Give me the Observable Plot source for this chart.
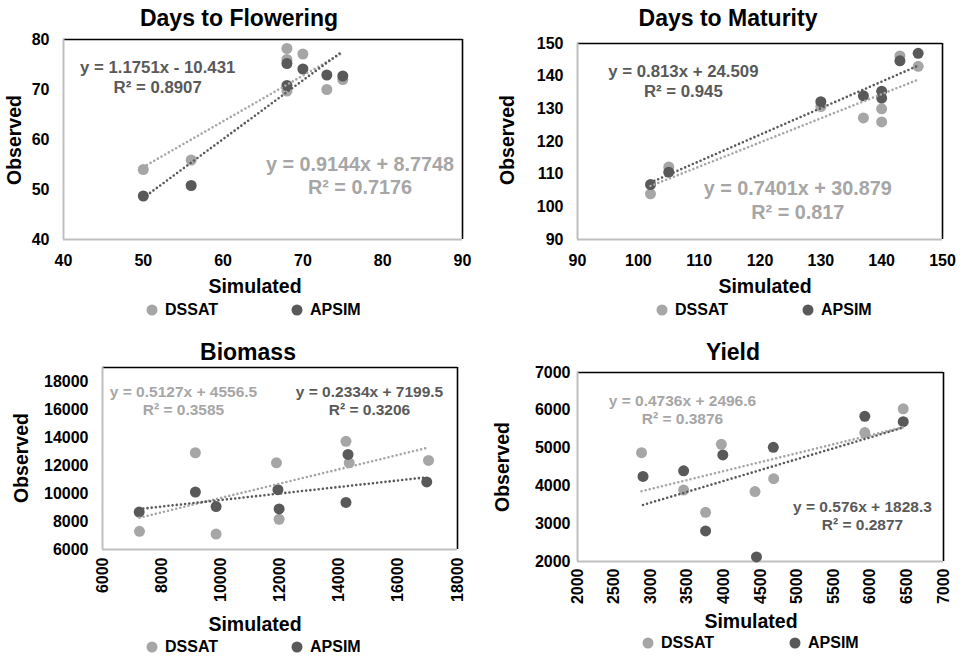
<!DOCTYPE html>
<html>
<head>
<meta charset="utf-8">
<script src="https://cdn.jsdelivr.net/npm/d3@7"></script>
<script src="https://cdn.jsdelivr.net/npm/@observablehq/plot@0.6"></script>
<style>
  body { margin: 0; background: #fff; }
  #page { position: relative; width: 963px; height: 658px; overflow: hidden;
          font-family: "Liberation Sans", Arial, sans-serif; font-weight: bold; color: #000; }
  #page svg { position: absolute; }
  .lbl { position: absolute; white-space: nowrap; line-height: 1; transform: translate(-50%, -50%); }
  .key { position: absolute; white-space: nowrap; line-height: 1; transform: translateY(-50%); font-size: 16px; }
  .swatch { position: absolute; width: 11px; height: 11px; border-radius: 50%; transform: translate(-50%, -50%); }
</style>
</head>
<body>
<div id="page"></div>
<script>
// ---- Simulated vs observed values, DSSAT and APSIM ----
const titles = ["Days to Flowering", "Days to Maturity", "Biomass", "Yield"];
const modelNames = ["DSSAT", "APSIM"];
const modelColors = ["#a6a6a6", "#595959"];

const flowerDssatSim = [50, 56, 68, 68, 68, 70, 73, 75];
const flowerDssatObs = [54.0, 55.9, 78.2, 76.0, 69.7, 77.1, 70.0, 72.0];
const flowerApsimSim = [50, 56, 68, 68, 70, 73, 75];
const flowerApsimObs = [48.7, 50.8, 75.2, 70.8, 74.1, 72.9, 72.7];

const maturityDssatSim = [102, 105, 130, 137, 140, 140, 143, 146];
const maturityDssatObs = [104.0, 112.2, 130.7, 127.2, 130.0, 126.0, 146.2, 143.0];
const maturityApsimSim = [102, 105, 130, 137, 140, 140, 143, 146];
const maturityApsimObs = [106.8, 110.6, 132.2, 134.0, 135.4, 133.3, 144.7, 147.0];

const biomassDssatSim = [7250, 9140, 9840, 11880, 11970, 14230, 14340, 17020];
const biomassDssatObs = [7300, 12910, 7100, 12190, 8160, 13730, 12190, 12360];
const biomassApsimSim = [7240, 9140, 9840, 11930, 11970, 14230, 14300, 16960];
const biomassApsimObs = [8670, 10100, 9070, 10270, 8900, 9360, 12790, 10830];

const yieldDssatSim = [2875, 3450, 3750, 3965, 4425, 4680, 5925, 6450];
const yieldDssatObs = [4880, 3890, 3300, 5100, 3850, 4190, 5410, 6040];
const yieldApsimSim = [2895, 3450, 3750, 3985, 4445, 4675, 5925, 6450];
const yieldApsimObs = [4250, 4400, 2810, 4820, 2120, 5020, 5840, 5700];

// Linear trend lines (one entry per panel)
const dssatSlope = [0.9144, 0.7401, 0.5127, 0.4736];
const dssatIntercept = [8.7748, 30.879, 4556.5, 2496.6];
const dssatR2 = [0.7176, 0.817, 0.3585, 0.3876];
const apsimSlope = [1.1751, 0.813, 0.2334, 0.576];
const apsimIntercept = [-10.431, 24.509, 7199.5, 1828.3];
const apsimR2 = [0.8907, 0.945, 0.3206, 0.2877];

// Axis ticks
const flowerTicks = [40, 50, 60, 70, 80, 90];
const flowerTicksY = [40, 50, 60, 70, 80];
const maturityTicks = [90, 100, 110, 120, 130, 140, 150];
const biomassTicks = [6000, 8000, 10000, 12000, 14000, 16000, 18000];
const yieldTicksX = [2000, 2500, 3000, 3500, 4000, 4500, 5000, 5500, 6000, 6500, 7000];
const yieldTicksY = [2000, 3000, 4000, 5000, 6000, 7000];

// ---- Panel layout ----
const panels = [
  { dSim: flowerDssatSim, dObs: flowerDssatObs, aSim: flowerApsimSim, aObs: flowerApsimObs,
    xDomain: [40, 90], yDomain: [40, 80], xTicks: flowerTicks, yTicks: flowerTicksY,
    left: 0, top: 0, width: 481, height: 329, margin: [39, 19, 90, 63],
    xRotate: 0, xPad: 15, yPad: 14,
    title: [239, 18], xLabel: [255, 287], yLabel: [15, 140], legend: [310, 152, 297],
    dssatEq: { at: [77.15, 52.9], size: 19.8 }, apsimEq: { at: [51.8, 72.6], size: 16.8 } },
  { dSim: maturityDssatSim, dObs: maturityDssatObs, aSim: maturityApsimSim, aObs: maturityApsimObs,
    xDomain: [90, 150], yDomain: [90, 150], xTicks: maturityTicks, yTicks: maturityTicks,
    left: 481, top: 0, width: 482, height: 329, margin: [43, 21, 90, 96],
    xRotate: 0, xPad: 15, yPad: 14,
    title: [728, 18], xLabel: [765, 287], yLabel: [508, 140], legend: [310, 662, 808],
    dssatEq: { at: [126.2, 102.2], size: 19.8 }, apsimEq: { at: [107.4, 138.7], size: 16.8 } },
  { dSim: biomassDssatSim, dObs: biomassDssatObs, aSim: biomassApsimSim, aObs: biomassApsimObs,
    xDomain: [6000, 18000], yDomain: [6000, 19000], xTicks: biomassTicks, yTicks: biomassTicks,
    left: 0, top: 329, width: 481, height: 329, margin: [38, 24, 109, 102],
    xRotate: -90, xPad: 8, yPad: 14,
    title: [248, 352], xLabel: [255, 625], yLabel: [22, 458], legend: [647, 152, 297],
    dssatEq: { at: [8738, 16643], size: 15.5 }, apsimEq: { at: [15026, 16643], size: 15.5 } },
  { dSim: yieldDssatSim, dObs: yieldDssatObs, aSim: yieldApsimSim, aObs: yieldApsimObs,
    xDomain: [2000, 7000], yDomain: [2000, 7000], xTicks: yieldTicksX, yTicks: yieldTicksY,
    left: 481, top: 329, width: 482, height: 329, margin: [43, 20, 97, 96],
    xRotate: -90, xPad: 7, yPad: 7,
    title: [733, 352], xLabel: [751, 622], yLabel: [503, 467], legend: [643, 648, 795],
    dssatEq: { at: [3434, 6021], size: 15.5 }, apsimEq: { at: [5893, 3230], size: 15.5 } }
];

const page = document.getElementById("page");
const put = (html, cls, style) => {
  const el = document.createElement("div");
  el.className = cls;
  Object.assign(el.style, style);
  el.innerHTML = html;
  page.appendChild(el);
  return el;
};
const equation = (slope, icpt, r2) =>
  `y = ${slope}x ${icpt < 0 ? "-" : "+"} ${Math.abs(icpt)}\nR² = ${r2}`;

panels.forEach((p, i) => {
  const rows = (sim, obs) => sim.map((s, k) => ({ sim: s, obs: obs[k] }));
  const trend = (sim, slope, icpt) => d3.extent(sim).map(x => ({ sim: x, obs: slope * x + icpt }));
  const dssatRows = rows(p.dSim, p.dObs);
  const apsimRows = rows(p.aSim, p.aObs);
  const dssatTrend = trend(p.dSim, dssatSlope[i], dssatIntercept[i]);
  const apsimTrend = trend(p.aSim, apsimSlope[i], apsimIntercept[i]);
  const eqRows = [
    { x: p.dssatEq.at[0], y: p.dssatEq.at[1], t: equation(dssatSlope[i], dssatIntercept[i], dssatR2[i]), c: modelColors[0], s: p.dssatEq.size },
    { x: p.apsimEq.at[0], y: p.apsimEq.at[1], t: equation(apsimSlope[i], apsimIntercept[i], apsimR2[i]), c: modelColors[1], s: p.apsimEq.size }
  ];
  const [mt, mr, mb, ml] = p.margin;
  const dotted = { strokeWidth: 2.6, strokeDasharray: "0,4.2", strokeLinecap: "round" };

  const svg = Plot.plot({
    width: p.width, height: p.height,
    marginTop: mt, marginRight: mr, marginBottom: mb, marginLeft: ml,
    x: { domain: p.xDomain },
    y: { domain: p.yDomain },
    style: 'font-family: "Liberation Sans", Arial, sans-serif; font-size: 16px; font-weight: bold; color: #000; background: transparent; overflow: visible;',
    marks: [
      Plot.ruleX([p.xDomain[1]], { stroke: "#000", strokeWidth: 1.6 }),
      Plot.ruleY([p.yDomain[1]], { stroke: "#000", strokeWidth: 1.6 }),
      Plot.ruleX([p.xDomain[0]], { stroke: "#bfbfbf", strokeWidth: 2 }),
      Plot.ruleY([p.yDomain[0]], { stroke: "#bfbfbf", strokeWidth: 2 }),
      Plot.dot(dssatRows, { x: "sim", y: "obs", r: 5.5, fill: modelColors[0], stroke: null }),
      Plot.dot(apsimRows, { x: "sim", y: "obs", r: 5.5, fill: modelColors[1], stroke: null }),
      Plot.line(dssatTrend, { x: "sim", y: "obs", stroke: modelColors[0], ...dotted }),
      Plot.line(apsimTrend, { x: "sim", y: "obs", stroke: modelColors[1], ...dotted }),
      Plot.text(eqRows, { x: "x", y: "y", text: "t", fill: "c", fontSize: d => d.s, fontWeight: "bold",
                          lineHeight: 1.17, textAnchor: "middle", lineAnchor: "middle" }),
      Plot.axisX({ ticks: p.xTicks, tickSize: 0, tickPadding: p.xPad, tickRotate: p.xRotate,
                   tickFormat: d => `${d}`, label: null }),
      Plot.axisY({ ticks: p.yTicks, tickSize: 0, tickPadding: p.yPad, tickFormat: d => `${d}`, label: null })
    ]
  });
  // heavy black tick labels
  d3.select(svg).selectAll('g[aria-label$="tick label"]')
    .attr("font-size", null).attr("font-weight", null).attr("font-family", null)
    .style("font-size", "16px").style("font-weight", "700")
    .style("font-family", '"Liberation Sans", Arial, sans-serif').style("fill", "#000");
  svg.style.left = p.left + "px";
  svg.style.top = p.top + "px";
  page.appendChild(svg);

  put(titles[i], "lbl", { left: p.title[0] + "px", top: p.title[1] + "px", fontSize: "23px" });
  put("Simulated", "lbl", { left: p.xLabel[0] + "px", top: p.xLabel[1] + "px", fontSize: "19.5px" });
  put("Observed", "lbl", { left: p.yLabel[0] + "px", top: p.yLabel[1] + "px", fontSize: "19.5px",
                           transform: "translate(-50%, -50%) rotate(-90deg)" });
  const [ly, dx, ax] = p.legend;
  [dx, ax].forEach((mx, k) => {
    put("", "swatch", { left: mx + "px", top: ly + "px", background: modelColors[k] });
    put(modelNames[k], "key", { left: (mx + 13) + "px", top: ly + "px" });
  });
});
</script>
</body>
</html>
